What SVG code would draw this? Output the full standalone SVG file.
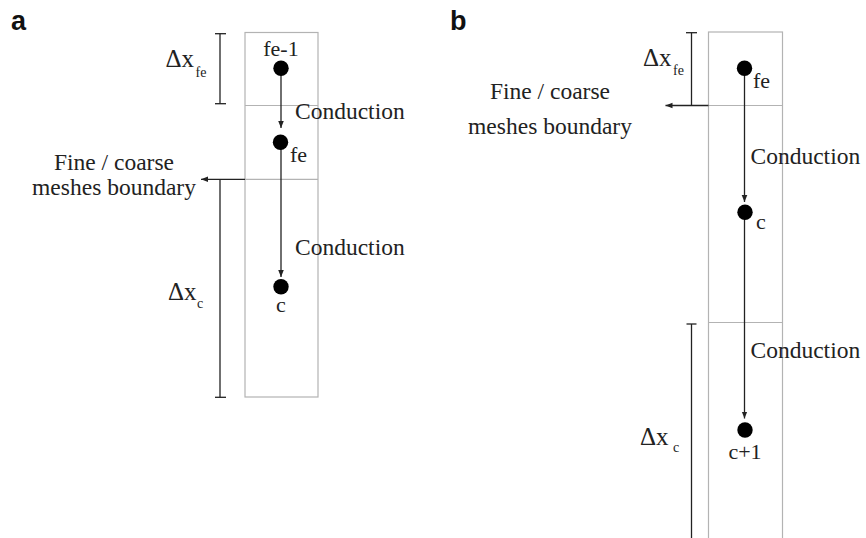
<svg xmlns="http://www.w3.org/2000/svg" width="866" height="538" viewBox="0 0 866 538">
<defs>
<marker id="ah" markerUnits="userSpaceOnUse" markerWidth="8" markerHeight="8" viewBox="0 0 8 8" refX="7" refY="4" orient="auto">
<path d="M0,1.2 L7,4 L0,6.8 Z" fill="#222"/>
</marker>
<style>
.cell{fill:none;stroke:#b3b3b3;stroke-width:1.2}
.ln{stroke:#222;stroke-width:1.3;fill:none}
.arr{stroke:#222;stroke-width:1.3;fill:none;marker-end:url(#ah)}
.t{font-family:"Liberation Serif","Times New Roman",serif;fill:#222}
.lbl{font-size:23.5px}
.nd{font-size:22px}
.dx{font-size:25px}
.sub{font-size:14px}
.pl{font-family:"Liberation Sans",Arial,sans-serif;font-weight:bold;font-size:27px;fill:#111}
.dot{fill:#000}
</style>
</defs>

<!-- panel labels -->
<text class="pl" x="11" y="30">a</text>
<text class="pl" x="450" y="30">b</text>

<!-- mesh cells -->
<g id="cells-a">
<rect class="cell" x="245" y="32.5" width="73" height="364.5"/>
<line class="cell" x1="245" y1="105.5" x2="318" y2="105.5"/>
<line class="cell" x1="245" y1="179.3" x2="318" y2="179.3"/>
</g>
<g id="cells-b">
<rect class="cell" x="708.5" y="32" width="74" height="520"/>
<line class="cell" x1="708.5" y1="105.5" x2="782.5" y2="105.5"/>
<line class="cell" x1="708.5" y1="322.5" x2="782.5" y2="322.5"/>
</g>

<!-- connectors -->
<g id="connectors">
<line class="arr" x1="281" y1="68" x2="281" y2="128"/>
<line class="arr" x1="281" y1="142" x2="281" y2="277"/>
<line class="arr" x1="245" y1="179.3" x2="201" y2="179.3"/>
<line class="arr" x1="744.5" y1="68" x2="744.5" y2="202"/>
<line class="arr" x1="744.5" y1="212" x2="744.5" y2="418.5"/>
<line class="arr" x1="708.5" y1="105.5" x2="665.5" y2="105.5"/>
<!-- dimension brackets -->
<line class="ln" x1="220" y1="33.7" x2="220" y2="103.7"/>
<line class="ln" x1="215" y1="33.7" x2="226" y2="33.7"/>
<line class="ln" x1="215" y1="103.7" x2="226" y2="103.7"/>
<line class="ln" x1="220" y1="179.3" x2="220" y2="397.3"/>
<line class="ln" x1="215" y1="397.3" x2="226" y2="397.3"/>
<line class="ln" x1="691.5" y1="32.7" x2="691.5" y2="105.5"/>
<line class="ln" x1="686" y1="32.7" x2="697" y2="32.7"/>
<line class="ln" x1="691.5" y1="324" x2="691.5" y2="540"/>
<line class="ln" x1="686.5" y1="324" x2="696.5" y2="324"/>
</g>

<!-- nodes panel a -->
<g id="node-a-fe-1">
<circle class="dot" cx="281" cy="68.3" r="7.7"/>
<text class="t nd" x="281" y="55.5" text-anchor="middle">fe-1</text>
</g>
<g id="node-a-fe">
<circle class="dot" cx="280.5" cy="142.3" r="7.7"/>
<text class="t nd" x="290" y="161.5">fe</text>
</g>
<g id="node-a-c">
<circle class="dot" cx="281" cy="286.7" r="7.7"/>
<text class="t nd" x="281" y="312" text-anchor="middle">c</text>
</g>

<!-- nodes panel b -->
<g id="node-b-fe">
<circle class="dot" cx="744.5" cy="68.3" r="7.7"/>
<text class="t nd" x="753" y="87.5">fe</text>
</g>
<g id="node-b-c">
<circle class="dot" cx="745" cy="212.3" r="7.7"/>
<text class="t nd" x="756" y="229">c</text>
</g>
<g id="node-b-c1">
<circle class="dot" cx="745" cy="430" r="7.7"/>
<text class="t nd" x="745" y="458.5" text-anchor="middle">c+1</text>
</g>

<!-- labels panel a -->
<g id="labels-a">
<text class="t lbl" x="295" y="118.5">Conduction</text>
<text class="t lbl" x="295" y="255">Conduction</text>
<text class="t lbl" x="114" y="169.5" text-anchor="middle">Fine / coarse</text>
<text class="t lbl" x="114" y="195" text-anchor="middle">meshes boundary</text>
<text class="t dx" x="165.5" y="67">Δx</text>
<text class="t sub" x="195.5" y="76.5">fe</text>
<text class="t dx" x="168" y="300">Δx</text>
<text class="t sub" x="197" y="307.5">c</text>
</g>

<!-- labels panel b -->
<g id="labels-b">
<text class="t lbl" x="750.5" y="164">Conduction</text>
<text class="t lbl" x="750.5" y="357.5">Conduction</text>
<text class="t lbl" x="550" y="99" text-anchor="middle">Fine / coarse</text>
<text class="t lbl" x="550" y="133.5" text-anchor="middle">meshes boundary</text>
<text class="t dx" x="643" y="65.5">Δx</text>
<text class="t sub" x="673" y="75">fe</text>
<text class="t dx" x="640" y="445">Δx</text>
<text class="t sub" x="673" y="452">c</text>
</g>
</svg>
